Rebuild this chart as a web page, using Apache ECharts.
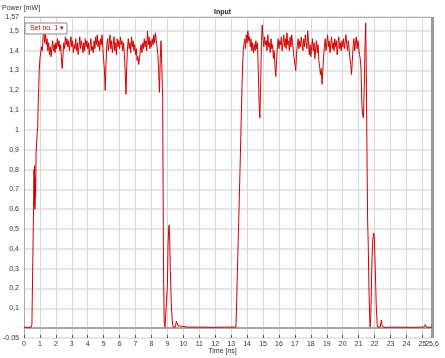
<!DOCTYPE html>
<html>
<head>
<meta charset="utf-8">
<script src="https://cdn.jsdelivr.net/npm/echarts@6/dist/echarts.min.js"></script>
<style>
  html, body { margin: 0; padding: 0; background: #fff; }
  #chart { width: 445px; height: 358px; }
</style>
</head>
<body>
<div id="chart"></div>
<script>
// tick labels
const yTicks = [-0.05, 0.1, 0.2, 0.3, 0.4, 0.5, 0.6, 0.7, 0.8, 0.9, 1, 1.1, 1.2, 1.3, 1.4, 1.5, 1.57];
const xTicks = [0, 1, 2, 3, 4, 5, 6, 7, 8, 9, 10, 11, 12, 13, 14, 15, 16, 17, 18, 19, 20, 21, 22, 23, 24, 25];
const xEndTick = [25.6];

// scope samples: time [ns], power [mW]
const sampleStep = 0.05;

// baseline + rising edge of first pulse
const lead = [
  [0, 0.004], [0.45, 0.004], [0.5, 0.02], [0.54, 0.25], [0.58, 0.48], [0.61, 0.64],
  [0.63, 0.80], [0.65, 0.62], [0.67, 0.82], [0.69, 0.60], [0.71, 0.76], [0.73, 0.66],
  [0.76, 0.88], [0.81, 0.96], [0.86, 1.01], [0.90, 1.15], [0.93, 1.22], [0.96, 1.30], [1.00, 1.36]
];

// first plateau, sampled every sampleStep from 1.05 ns
const pulse1Start = 1.05;
const pulse1 = [
  1.39, 1.42, 1.40, 1.47, 1.50, 1.44, 1.49, 1.43, 1.46, 1.40, 1.44, 1.38, 1.42, 1.37, 1.41, 1.45, 1.40, 1.43, 1.39,
  1.44, 1.41, 1.46, 1.42, 1.45, 1.40, 1.43, 1.36, 1.31, 1.38, 1.44, 1.41, 1.47, 1.43, 1.46, 1.42, 1.45, 1.40, 1.44, 1.47,
  1.42, 1.45, 1.39, 1.43, 1.41, 1.46, 1.40, 1.44, 1.38, 1.42, 1.47, 1.41, 1.45, 1.43, 1.39, 1.44, 1.40, 1.46, 1.42, 1.45,
  1.41, 1.44, 1.38, 1.43, 1.46, 1.40, 1.42, 1.39, 1.45, 1.41, 1.47, 1.43, 1.48, 1.42, 1.45, 1.40, 1.46, 1.43, 1.48, 1.41,
  1.40, 1.30, 1.20, 1.34, 1.43, 1.46, 1.40, 1.44, 1.48, 1.41, 1.45, 1.39, 1.43, 1.47, 1.40, 1.44, 1.38, 1.46, 1.42, 1.45,
  1.41, 1.47, 1.43, 1.45, 1.40, 1.44, 1.38, 1.30, 1.18, 1.32, 1.42, 1.46, 1.41, 1.44, 1.39, 1.47, 1.42, 1.45, 1.40, 1.43,
  1.38, 1.41, 1.35, 1.37, 1.33, 1.36, 1.40, 1.43, 1.39, 1.44, 1.41, 1.46, 1.42, 1.45, 1.40, 1.50, 1.43, 1.47, 1.41, 1.45,
  1.42, 1.46, 1.43, 1.48, 1.44, 1.49, 1.45, 1.42, 1.38
];

// falling edge, echo bump, baseline, rising edge of second pulse
const gap = [
  [8.45, 1.30], [8.50, 1.19], [8.55, 1.36], [8.60, 1.45], [8.65, 1.31], [8.70, 1.17], [8.73, 0.70],
  [8.76, 0.25], [8.80, 0.03], [8.85, 0.004], [8.95, 0.004], [9.00, 0.22], [9.04, 0.42], [9.08, 0.50],
  [9.11, 0.52], [9.14, 0.46], [9.18, 0.30], [9.24, 0.13], [9.30, 0.04], [9.36, 0.005], [9.50, 0.006],
  [9.56, 0.035], [9.60, 0.042], [9.66, 0.012], [9.75, 0.004], [10.30, 0.005], [10.33, 0.009], [10.36, 0.004],
  [11.20, 0.005], [11.80, 0.004], [12.60, 0.005], [13.30, 0.005], [13.35, 0.15], [13.42, 0.38], [13.50, 0.62],
  [13.58, 0.88], [13.63, 1.05], [13.68, 1.22], [13.72, 1.33], [13.76, 1.40]
];

// second plateau, sampled every sampleStep from 13.80 ns
const pulse2Start = 13.80;
const pulse2 = [
  1.43, 1.46, 1.41, 1.48,
  1.44, 1.50, 1.45, 1.47, 1.42, 1.46, 1.40, 1.44, 1.39, 1.43, 1.40, 1.45, 1.41, 1.44, 1.30, 1.14, 1.06, 1.22, 1.45, 1.53,
  1.46, 1.42, 1.47, 1.43, 1.45, 1.40, 1.48, 1.42, 1.44, 1.39, 1.46, 1.41, 1.43, 1.36, 1.40, 1.32, 1.27, 1.35, 1.42, 1.46,
  1.41, 1.45, 1.43, 1.47, 1.40, 1.44, 1.48, 1.42, 1.46, 1.41, 1.49, 1.43, 1.45, 1.40, 1.47, 1.42, 1.48, 1.44, 1.40, 1.36,
  1.33, 1.30, 1.38, 1.43, 1.46, 1.41, 1.45, 1.42, 1.47, 1.43, 1.40, 1.46, 1.42, 1.48, 1.44, 1.41, 1.50, 1.45, 1.38, 1.43,
  1.37, 1.42, 1.46, 1.40, 1.44, 1.36, 1.41, 1.45, 1.39, 1.43, 1.35, 1.32, 1.28, 1.31, 1.23, 1.30, 1.37, 1.42, 1.46, 1.40,
  1.44, 1.48, 1.42, 1.45, 1.39, 1.43, 1.47, 1.41, 1.44, 1.40, 1.46, 1.42, 1.45, 1.38, 1.43, 1.47, 1.41, 1.44, 1.40, 1.45,
  1.42, 1.46, 1.41, 1.44, 1.48, 1.43, 1.40, 1.45, 1.41, 1.36, 1.33, 1.28, 1.35, 1.42, 1.46, 1.40, 1.44, 1.47, 1.41, 1.45,
  1.42, 1.38, 1.36
];

// falling edge, echo bump and baseline to the end
const tail = [
  [21.15, 1.30], [21.20, 1.12], [21.25, 1.08], [21.30, 1.06], [21.35, 1.22], [21.40, 1.43], [21.44, 1.54],
  [21.48, 1.28], [21.52, 0.90], [21.56, 0.55], [21.60, 0.42], [21.64, 0.22], [21.68, 0.08], [21.72, 0.005],
  [21.76, 0.06], [21.82, 0.30], [21.88, 0.44], [21.94, 0.48], [21.98, 0.46], [22.04, 0.30], [22.10, 0.12],
  [22.16, 0.02], [22.20, 0.005], [22.36, 0.006], [22.42, 0.04], [22.47, 0.012], [22.53, 0.022], [22.60, 0.004],
  [23.40, 0.005], [24.30, 0.004], [25.10, 0.005], [25.18, 0.018], [25.26, 0.004], [25.60, 0.005]
];

function sampled(start, values) {
  return values.map((v, i) => [+(start + i * sampleStep).toFixed(2), v]);
}

const trace = [].concat(lead, sampled(pulse1Start, pulse1), gap, sampled(pulse2Start, pulse2), tail);

const font = 'Liberation Sans, Arial, sans-serif';
const chart = echarts.init(document.getElementById('chart'));

const labelStyle = { fontSize: 7, fontFamily: font, color: '#333' };

chart.setOption({
  animation: false,
  backgroundColor: '#fff',
  title: {
    text: 'Input',
    left: 'center',
    top: 4,
    textStyle: { fontSize: 7, fontWeight: 'bold', color: '#222', fontFamily: font }
  },
  legend: {
    data: ['Set no. 1'],
    left: 25,
    top: 23,
    icon: 'none',
    itemWidth: 0,
    itemHeight: 0,
    formatter: '{name} ▾',
    padding: [2, 3, 2, 0],
    borderColor: '#888',
    borderWidth: 1,
    backgroundColor: '#fff',
    textStyle: { color: '#cc0000', fontSize: 7, fontFamily: font }
  },
  grid: { left: 22, right: 13, top: 17, bottom: 20 },
  graphic: [
    { type: 'text', left: 2, top: 5, style: { text: 'Power [mW]', fill: '#333', font: '7px ' + font } },
    { type: 'text', left: 'center', top: 348, style: { text: 'Time [ns]', fill: '#333', font: '7px ' + font } }
  ],
  xAxis: [{
    type: 'value',
    min: 0,
    max: 25.6,
    axisLine: { show: false, onZero: false },
    axisTick: { show: true, inside: true, length: 3, lineStyle: { color: '#555' }, customValues: xTicks },
    axisLabel: Object.assign({ customValues: xTicks, margin: 3, showMinLabel: true, hideOverlap: false }, labelStyle),
    splitLine: { show: true, lineStyle: { color: '#d8d8d8', width: 1 } }
  }, {
    // end-of-range label only
    type: 'value',
    position: 'bottom',
    min: 0,
    max: 25.6,
    axisLine: { show: false, onZero: false },
    axisTick: { show: false },
    splitLine: { show: false },
    axisLabel: Object.assign({
      customValues: xEndTick,
      margin: 3,
      showMaxLabel: true,
      formatter: v => String(v).replace('.', ',')
    }, labelStyle)
  }],
  yAxis: {
    type: 'value',
    min: -0.05,
    max: 1.57,
    axisLine: { show: true, lineStyle: { color: '#aaa' } },
    axisTick: { show: false, customValues: yTicks },
    axisLabel: Object.assign({
      customValues: yTicks,
      margin: 5,
      showMinLabel: true,
      showMaxLabel: true,
      formatter: v => v === -0.05 ? '-0.05' : String(v).replace('.', ',')
    }, labelStyle),
    splitLine: { show: true, lineStyle: { color: '#e6e6e6', width: 2 } }
  },
  series: [{
    name: 'Set no. 1',
    type: 'line',
    data: trace,
    showSymbol: false,
    symbol: 'none',
    lineStyle: { color: '#d40000', width: 1 },
    itemStyle: { color: '#d40000' },
    markLine: {
      silent: true,
      symbol: 'none',
      z: 1,
      label: { show: false },
      data: [
        { yAxis: 0, lineStyle: { color: '#a8a8a8', width: 2, type: 'solid' } },
        { yAxis: 1.57, lineStyle: { color: '#b0b0b0', width: 1, type: 'solid' } },
        { xAxis: 25.6, lineStyle: { color: '#999', width: 3, type: 'solid' } }
      ]
    }
  }]
});
</script>
</body>
</html>
